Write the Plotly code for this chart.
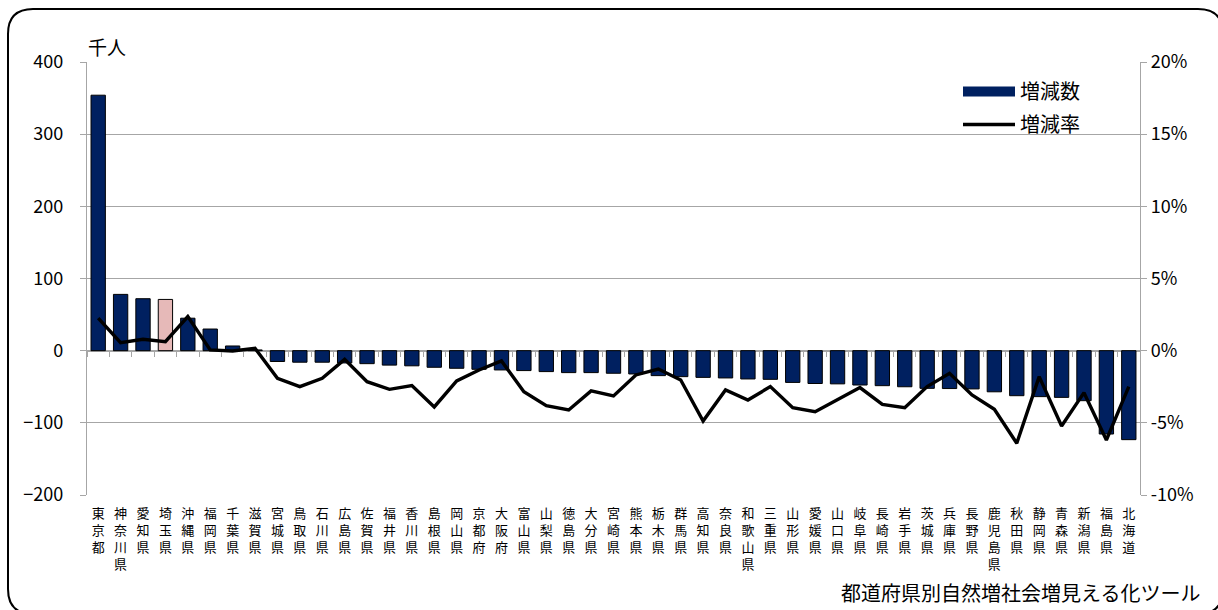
import plotly.graph_objects as go

# ---------------- data ----------------
prefectures = ["東京都", "神奈川県", "愛知県", "埼玉県", "沖縄県", "福岡県", "千葉県", "滋賀県",
               "宮城県", "鳥取県", "石川県", "広島県", "佐賀県", "福井県", "香川県", "島根県",
               "岡山県", "京都府", "大阪府", "富山県", "山梨県", "徳島県", "大分県", "宮崎県",
               "熊本県", "栃木県", "群馬県", "高知県", "奈良県", "和歌山県", "三重県", "山形県",
               "愛媛県", "山口県", "岐阜県", "長崎県", "岩手県", "茨城県", "兵庫県", "長野県",
               "鹿児島県", "秋田県", "静岡県", "青森県", "新潟県", "福島県", "北海道"]

change_thousand = [354, 78, 72, 71, 45, 30, 6.5, 1,
                   -15, -16, -16, -17, -18, -20, -21, -23,
                   -24.4, -25.8, -26.7, -27.6, -29, -30.4, -30.4, -31.3,
                   -32.3, -34.6, -36, -37, -37.8, -39.2, -39.7, -44,
                   -45.5, -46, -47.6, -48.5, -50, -52.2, -52.5, -53,
                   -57, -62.4, -63.7, -64.7, -69.3, -115.5, -123.3]

change_rate_pct = [2.25, 0.55, 0.79, 0.62, 2.36, 0.05, -0.02, 0.17,
                   -1.91, -2.49, -1.91, -0.6, -2.15, -2.68, -2.42, -3.9,
                   -2.1, -1.34, -0.71, -2.84, -3.81, -4.11, -2.79, -3.14,
                   -1.68, -1.27, -2.03, -4.87, -2.72, -3.42, -2.49, -3.95,
                   -4.23, -3.42, -2.56, -3.72, -3.95, -2.49, -1.57, -3.07,
                   -4.06, -6.42, -1.8, -5.22, -2.91, -6.19, -2.49]

highlight = "埼玉県"
left_ticks = [-200, -100, 0, 100, 200, 300, 400]
right_ticks = [-10, -5, 0, 5, 10, 15, 20]

# ---------------- style ----------------
FONT = "Noto Sans CJK JP"
NAVY = "#002060"
PINK = "#E6B9B8"
GRID = "#a6a6a6"

W, H = 1218, 610
L, R, T, B = 87, 1140, 62, 495
PW, PH = R - L, B - T


def px(xp):
    return (xp - L) / PW


def py(yp):
    return (B - yp) / PH


bar_colors = [PINK if p == highlight else NAVY for p in prefectures]
n = len(prefectures)
idx = list(range(n))
vertical_labels = ["<br>".join(p) for p in prefectures]

fig = go.Figure()
fig.add_trace(go.Bar(
    x=prefectures, y=change_thousand, name="増減数",
    marker=dict(color=bar_colors, line=dict(color="#000000", width=1)),
    showlegend=False, xaxis="x", yaxis="y",
))
fig.add_trace(go.Scatter(
    x=prefectures, y=change_rate_pct, name="増減率", mode="lines",
    line=dict(color="#000000", width=3.4),
    legendgroup="b", legendrank=2, xaxis="x", yaxis="y2",
))
# legend entry for the bars (wide block symbol like the original)
fig.add_trace(go.Scatter(
    x=[None], y=[None], name="増減数", mode="lines",
    line=dict(color=NAVY, width=12), legendgroup="a", legendrank=1,
    xaxis="x", yaxis="y", hoverinfo="skip",
))

# small category-boundary ticks on the zero line
zero_pos = (0 - left_ticks[0]) / (left_ticks[-1] - left_ticks[0])
fig.add_trace(go.Scatter(x=idx, y=[0] * n, mode="markers", xaxis="x2", yaxis="y",
                         marker=dict(size=1, opacity=0), showlegend=False, hoverinfo="skip"))

fig.update_layout(
    width=W, height=H,
    margin=dict(l=L, r=W - R, t=T, b=H - B, autoexpand=False),
    paper_bgcolor="white", plot_bgcolor="white",
    font=dict(family=FONT, color="#000000"),
    bargap=0.36,
    showlegend=True,
    legend=dict(x=px(958), y=py(72), xanchor="left", yanchor="top",
                font=dict(family=FONT, size=20), bgcolor="rgba(0,0,0,0)",
                itemwidth=52, tracegroupgap=4, traceorder="grouped"),
    xaxis=dict(type="category", tickmode="array", tickvals=prefectures, ticktext=vertical_labels,
               ticks="", showgrid=False, showline=False, zeroline=False,
               range=[-0.5, n - 0.5], ticklabelstandoff=9,
               tickfont=dict(family=FONT, size=13, color="#000000"), automargin=False),
    xaxis2=dict(overlaying="x", anchor="free", position=zero_pos, side="bottom", type="linear",
                range=[-0.5, n - 0.5], tickmode="array",
                tickvals=[i - 0.5 for i in range(n + 1)], showticklabels=False,
                ticks="outside", ticklen=5, tickwidth=1.3, tickcolor=GRID,
                showgrid=False, showline=False, zeroline=False, automargin=False),
    yaxis=dict(range=[left_ticks[0], left_ticks[-1]], tickmode="array", tickvals=left_ticks,
               showgrid=True, gridcolor=GRID, gridwidth=1.3,
               zeroline=True, zerolinecolor=GRID, zerolinewidth=1.6,
               showline=True, linecolor=GRID, linewidth=1.3,
               ticks="outside", ticklen=6, tickcolor=GRID, tickwidth=1.3,
               ticklabelstandoff=13,
               tickfont=dict(family=FONT, size=18, color="#000000"), automargin=False),
    yaxis2=dict(range=[right_ticks[0], right_ticks[-1]], tickmode="array", tickvals=right_ticks,
                ticktext=[f"{v}%" for v in right_ticks],
                overlaying="y", side="right", showgrid=False, zeroline=False,
                showline=True, linecolor=GRID, linewidth=1.3,
                ticks="outside", ticklen=6, tickcolor=GRID, tickwidth=1.3,
                tickfont=dict(family=FONT, size=18, color="#000000"), automargin=False),
)

# axis unit label
fig.add_annotation(text="千人", x=px(86), y=py(46), xref="paper", yref="paper",
                   xanchor="left", yanchor="middle", showarrow=False,
                   font=dict(family=FONT, size=19, color="#000000"))
# footer caption
fig.add_annotation(text="都道府県別自然増社会増見える化ツール", x=px(1202), y=py(592),
                   xref="paper", yref="paper", xanchor="right", yanchor="middle",
                   showarrow=False, font=dict(family=FONT, size=20, color="#000000"))

# rounded outer frame
x0, x1 = px(8), px(1223)
y0, y1 = py(614), py(9)
rx, ry = 25 / PW, 25 / PH
path = (f"M {x0 + rx},{y1} L {x1 - rx},{y1} Q {x1},{y1} {x1},{y1 - ry} "
        f"L {x1},{y0 + ry} Q {x1},{y0} {x1 - rx},{y0} L {x0 + rx},{y0} "
        f"Q {x0},{y0} {x0},{y0 + ry} L {x0},{y1 - ry} Q {x0},{y1} {x0 + rx},{y1} Z")
fig.add_shape(type="path", path=path, xref="paper", yref="paper",
              line=dict(color="#000000", width=2), fillcolor="rgba(0,0,0,0)", layer="above")

fig.write_html("out.html")
